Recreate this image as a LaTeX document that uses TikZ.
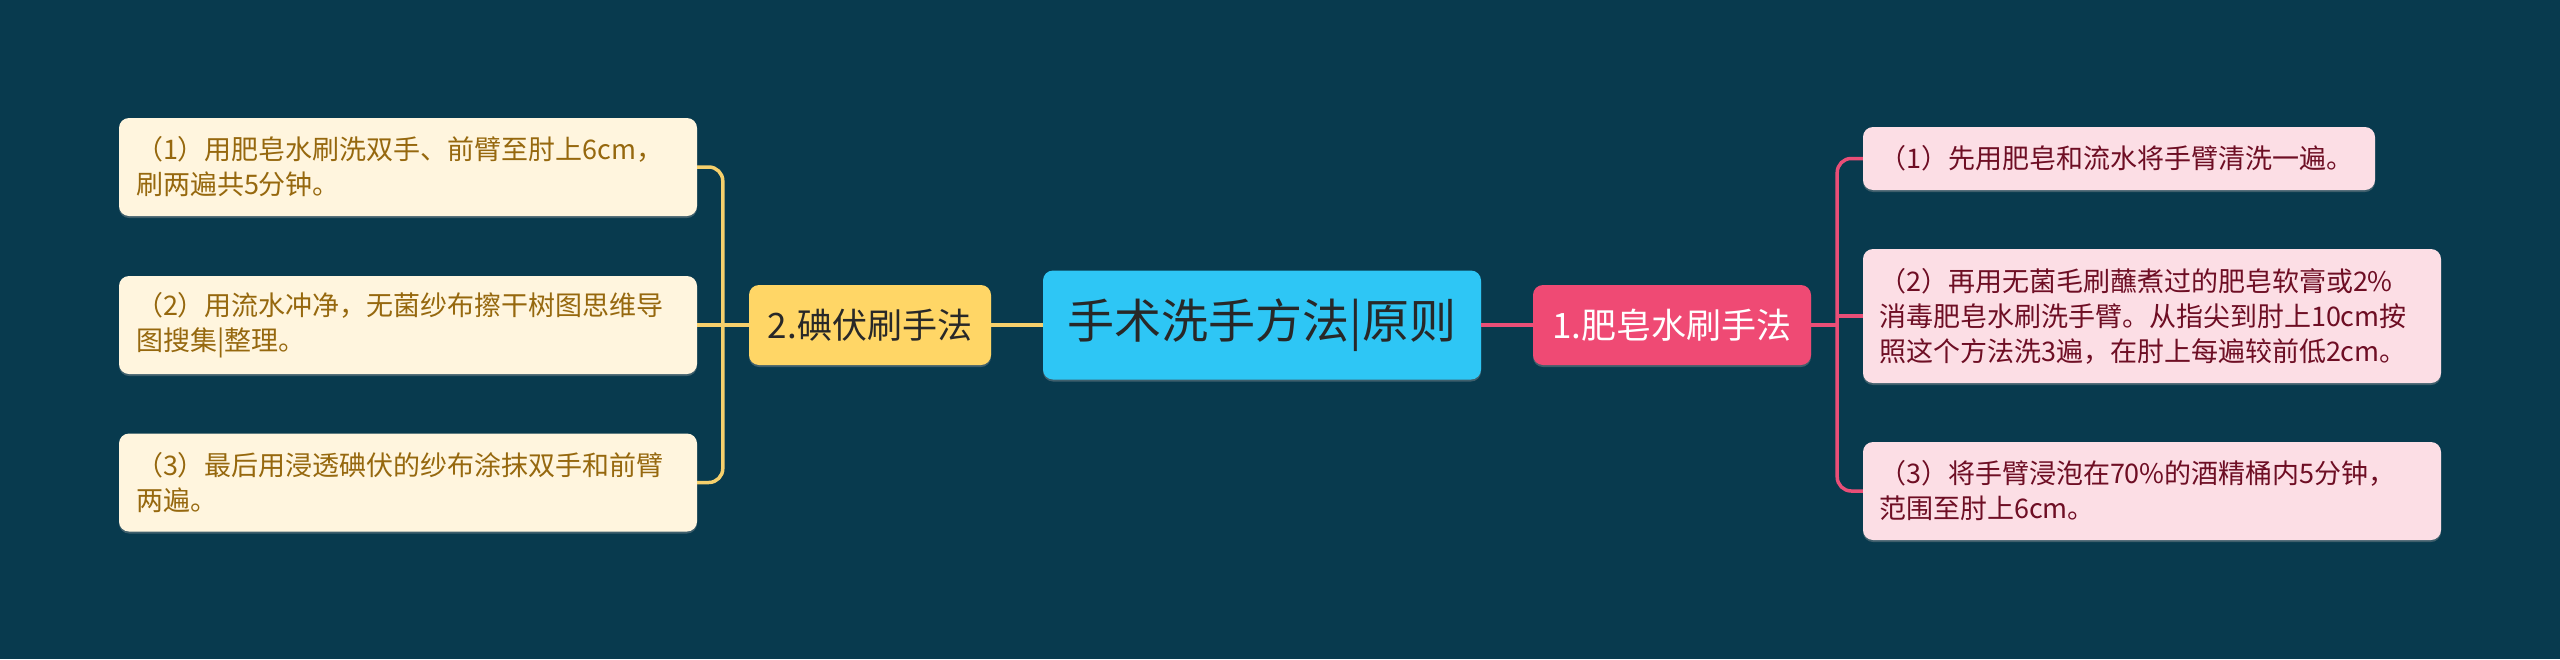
\documentclass[tikz,border=0pt]{standalone}
\usepackage{fontspec}
\setmainfont{Noto Sans CJK SC}
\usetikzlibrary{shadows}
\definecolor{bg}{RGB}{8,58,78}
\definecolor{lfill}{RGB}{255,245,222}
\definecolor{ltext}{RGB}{150,104,14}
\definecolor{ycol}{RGB}{246,208,108}
\definecolor{yfill}{RGB}{255,214,102}
\definecolor{bfill}{RGB}{46,198,245}
\definecolor{pfill}{RGB}{239,74,116}
\definecolor{pcol}{RGB}{233,78,119}
\definecolor{rfill}{RGB}{252,222,229}
\definecolor{rtext}{RGB}{110,14,36}
\definecolor{dtext}{RGB}{40,40,40}
\tikzset{
  boxshadow/.style={drop shadow={shadow xshift=0pt,shadow yshift=-2pt,opacity=0.35,fill=gray!70}},
  leafbox/.style={rounded corners=10pt, inner xsep=17pt, inner ysep=0pt, align=left,
    font=\fontsize{27}{35}\selectfont, boxshadow},
  lbox/.style={leafbox, fill=lfill, text=ltext, minimum width=578pt, minimum height=98pt, text width=544pt},
  rbox/.style={leafbox, fill=rfill, text=rtext, inner xsep=16pt},
  branch/.style={rounded corners=10pt, minimum height=80pt, inner sep=0pt, font=\fontsize{35}{40}\selectfont, boxshadow},
  rootbox/.style={rounded corners=10pt, fill=bfill, text=dtext, minimum width=438pt, minimum height=109pt, inner sep=0pt, font=\fontsize{47}{52}\selectfont, boxshadow},
  yline/.style={draw=ycol, line width=3.5pt, rounded corners=14pt},
  pline/.style={draw=pcol, line width=3.5pt, rounded corners=14pt}
}
\begin{document}
\begin{tikzpicture}[x=1pt,y=-1pt]
\fill[bg] (0,0) rectangle (2560,659);
\useasboundingbox (0,0) rectangle (2560,659);

\node[rootbox] (root) at (1262,325) {手术洗手方法|原则};
\node[branch, fill=yfill, text=dtext, minimum width=242pt] (yel) at (870,325) {2.碘伏刷手法};
\node[branch, fill=pfill, text=white, minimum width=278pt] (pink) at (1672,325) {1.肥皂水刷手法};

\node[lbox] (l1) at (408,167) {（1）用肥皂水刷洗双手、前臂至肘上6cm，\\刷两遍共5分钟。};
\node[lbox] (l2) at (408,325) {（2）用流水冲净，无菌纱布擦干树图思维导\\图搜集|整理。};
\node[lbox] (l3) at (408,482.5) {（3）最后用浸透碘伏的纱布涂抹双手和前臂\\两遍。};

\node[rbox, minimum width=512pt, minimum height=63pt, text width=480pt] (r1) at (2119,158.5) {（1）先用肥皂和流水将手臂清洗一遍。};
\node[rbox, minimum width=578pt, minimum height=134pt, text width=546pt] (r2) at (2152,316) {（2）再用无菌毛刷蘸煮过的肥皂软膏或2\%\\消毒肥皂水刷洗手臂。从指尖到肘上10cm按\\照这个方法洗3遍，在肘上每遍较前低2cm。};
\node[rbox, minimum width=578pt, minimum height=98pt, text width=546pt] (r3) at (2152,491) {（3）将手臂浸泡在70\%的酒精桶内5分钟，\\范围至肘上6cm。};

\coordinate (yj) at ([xshift=-26pt]yel.west);
\coordinate (pj) at ([xshift=26pt]pink.east);

\draw[yline] (l1.east) -| (yj);
\draw[yline] (l3.east) -| (yj);
\draw[yline] (l2.east) -- (yj) -- (yel.west);
\draw[yline] (yel.east) -- (root.west);

\draw[pline] (root.east) -- (pink.west);
\draw[pline] (pink.east) -- (pj);
\draw[pline] (r1.west) -| (pj);
\draw[pline] (r3.west) -| (pj);
\draw[pline] (r2.west) -- (r2.west -| pj);
\end{tikzpicture}
\end{document}
